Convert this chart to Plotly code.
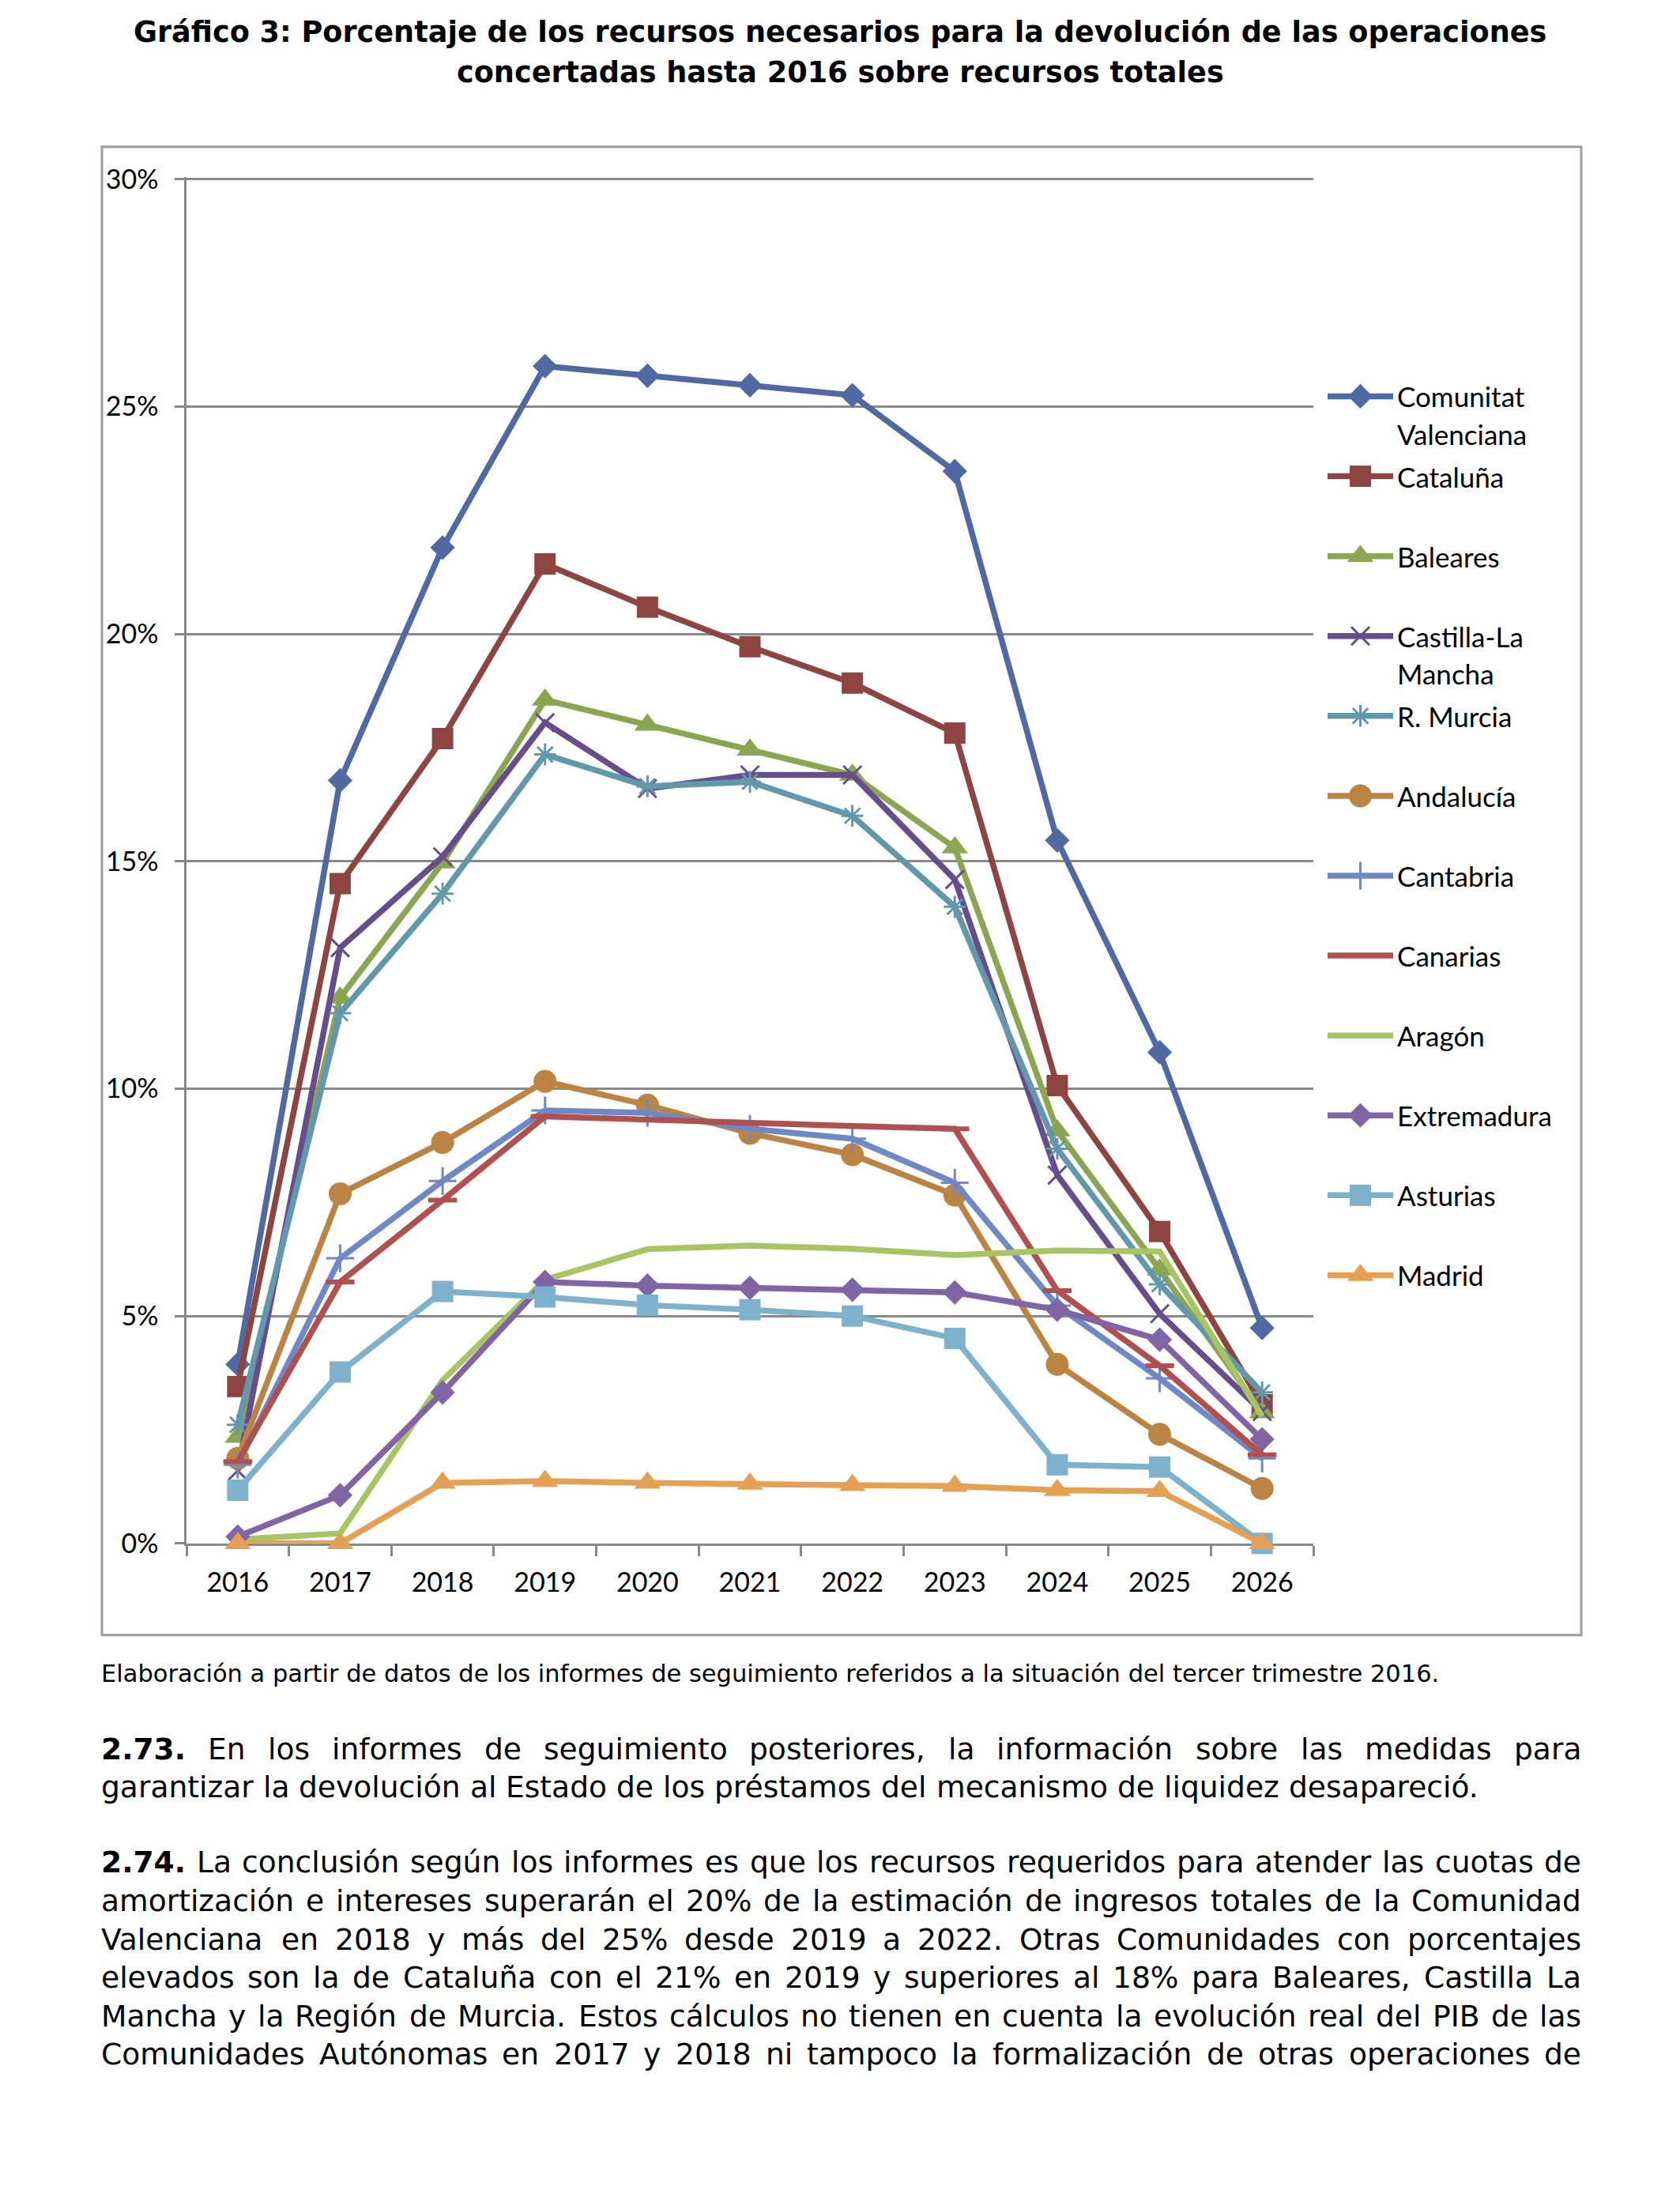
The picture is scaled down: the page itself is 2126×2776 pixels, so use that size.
import plotly.graph_objects as go

W, H = 2126, 2776

# ---------------- data ----------------
YEARS = ["2016", "2017", "2018", "2019", "2020", "2021", "2022", "2023", "2024", "2025", "2026"]

NAMES = ["Comunitat Valenciana", "Cataluña", "Baleares", "Castilla-La Mancha", "R. Murcia",
         "Andalucía", "Cantabria", "Canarias", "Aragón", "Extremadura", "Asturias", "Madrid"]

comunitat_valenciana = [3.94, 16.78, 21.90, 25.89, 25.68, 25.47, 25.25, 23.58, 15.46, 10.80, 4.74]
cataluna = [3.45, 14.51, 17.70, 21.54, 20.59, 19.72, 18.92, 17.82, 10.07, 6.86, 3.05]
baleares = [2.34, 12.00, 14.97, 18.55, 18.00, 17.45, 16.90, 15.30, 9.08, 6.02, 2.88]
castilla_la_mancha = [1.60, 13.10, 15.10, 18.05, 16.60, 16.90, 16.90, 14.60, 8.10, 5.05, 2.90]
r_murcia = [2.61, 11.66, 14.29, 17.35, 16.65, 16.75, 16.00, 14.00, 8.68, 5.70, 3.32]
andalucia = [1.87, 7.69, 8.82, 10.16, 9.64, 9.02, 8.55, 7.66, 3.94, 2.40, 1.21]
cantabria = [1.73, 6.27, 7.97, 9.52, 9.47, 9.12, 8.90, 7.93, 5.23, 3.63, 1.87]
canarias = [1.80, 5.75, 7.55, 9.39, 9.32, 9.24, 9.18, 9.12, 5.56, 3.91, 1.95]
aragon = [0.09, 0.22, 3.59, 5.80, 6.47, 6.55, 6.48, 6.34, 6.44, 6.42, 2.80]
extremadura = [0.15, 1.06, 3.32, 5.75, 5.67, 5.62, 5.58, 5.52, 5.14, 4.48, 2.29]
asturias = [1.17, 3.77, 5.54, 5.42, 5.24, 5.14, 5.00, 4.51, 1.73, 1.68, 0.00]
madrid = [0.00, 0.00, 1.33, 1.37, 1.33, 1.31, 1.28, 1.26, 1.17, 1.15, 0.00]

VALUES = [comunitat_valenciana, cataluna, baleares, castilla_la_mancha, r_murcia, andalucia,
          cantabria, canarias, aragon, extremadura, asturias, madrid]

Y_TICKS = [0, 5, 10, 15, 20, 25, 30]
Y_TICK_LABELS = ["0%", "5%", "10%", "15%", "20%", "25%", "30%"]

TITLE_LINES = ["Gráfico 3: Porcentaje de los recursos necesarios para la devolución de las operaciones",
               "concertadas hasta 2016 sobre recursos totales"]
FOOTNOTE = "Elaboración a partir de datos de los informes de seguimiento referidos a la situación del tercer trimestre 2016."
PARA_273 = [("2.73.", "En los informes de seguimiento posteriores, la información sobre las medidas para", True),
            (None, "garantizar la devolución al Estado de los préstamos del mecanismo de liquidez desapareció.", False)]
PARA_274 = [("2.74.", "La conclusión según los informes es que los recursos requeridos para atender las cuotas de", True),
            (None, "amortización e intereses superarán el 20% de la estimación de ingresos totales de la Comunidad", True),
            (None, "Valenciana en 2018 y más del 25% desde 2019 a 2022. Otras Comunidades con porcentajes", True),
            (None, "elevados son la de Cataluña con el 21% en 2019 y superiores al 18% para Baleares, Castilla La", True),
            (None, "Mancha y la Región de Murcia. Estos cálculos no tienen en cuenta la evolución real del PIB de las", True),
            (None, "Comunidades Autónomas en 2017 y 2018 ni tampoco la formalización de otras operaciones de", True)]

# ---------------- styles ----------------
COLORS = ["#4F69A2", "#8E4441", "#8CA551", "#664D8B", "#6298AC", "#BC8442",
          "#6E89C6", "#B1514F", "#A9C563", "#8065A5", "#7DB1CC", "#E6A053"]
SYMBOLS = ["diamond", "square", "triangle-up", "x-thin-open", "asterisk-open", "circle",
           "cross-thin-open", "line-ew-open", None, "diamond", "square", "triangle-up"]
MSIZES = [24, 27, 29, 23, 23, 29, 25, 26, 0, 24, 27, 29]
MLINE = [0, 0, 0, 3, 3, 0, 3, 6, 0, 0, 0, 0]

GRID = "#898989"
CHART_FONT = "Lato"
TEXT_FONT = "DejaVu Sans"

# target positions (pixels of the 2126x2776 page)
Y_MAX = 30.05
PLOT_L, PLOT_R, PLOT_B = 236, 1662, 1953
PX_PER_PCT = 57.6
PLOT_T = PLOT_B - Y_MAX * PX_PER_PCT
FRAME = (129, 184, 2001, 2069)
LEG_X0, LEG_X1, LEG_TEXT_X = 1680, 1763, 1768
LEG_TOP, LEG_STEP, LEG_LINE2 = 500, 101.2, 47.5
TITLE_Y = [39, 90]
FOOT_Y = 2118
P273_Y = [2213, 2261]
P274_Y0, P274_STEP = 2357, 48.6

TEXT_L, TEXT_R = 128, 2001

# observed vertical mapping of the capture (page y -> picture y): y' = 17 + 0.9874*y
CAP_A, CAP_B = 17.0, 0.9874


def T(y):
    return (y - CAP_A) / CAP_B


def px(x):
    return x / W


def py(y):
    return 1 - T(y) / H


# approximate DejaVu Sans advance widths (em)
REG = {' ': .318, '.': .318, ',': .318, '%': .950, '-': .361, ':': .337,
       'a': .613, 'b': .635, 'c': .550, 'd': .635, 'e': .615, 'f': .352, 'g': .635, 'h': .634,
       'i': .278, 'j': .278, 'k': .579, 'l': .278, 'm': .974, 'n': .634, 'o': .612, 'p': .635,
       'q': .635, 'r': .411, 's': .521, 't': .392, 'u': .634, 'v': .592, 'w': .818, 'x': .592,
       'y': .592, 'z': .525, 'A': .684, 'B': .686, 'C': .698, 'D': .770, 'E': .632, 'F': .575,
       'G': .775, 'H': .752, 'I': .295, 'L': .557, 'M': .863, 'O': .787, 'P': .603, 'R': .695,
       'S': .635, 'T': .611, 'V': .684}
BOLD = {' ': .348, '.': .380, ',': .380, ':': .400, '%': 1.002,
        'a': .675, 'b': .716, 'c': .593, 'd': .716, 'e': .678, 'f': .435, 'g': .716, 'h': .712,
        'i': .343, 'j': .343, 'k': .665, 'l': .343, 'm': 1.042, 'n': .712, 'o': .687, 'p': .716,
        'q': .716, 'r': .493, 's': .595, 't': .478, 'u': .712, 'v': .652, 'w': .924, 'x': .647,
        'y': .652, 'z': .582, 'G': .821, 'P': .733}
ACC = {'á': 'a', 'é': 'e', 'í': 'i', 'ó': 'o', 'ú': 'u', 'ñ': 'n', 'Á': 'A', 'É': 'E'}


def em(s, bold=False):
    tab = BOLD if bold else REG
    tot = 0.0
    for ch in s:
        ch2 = ACC.get(ch, ch)
        if ch2.isdigit():
            tot += .696 if bold else .636
        else:
            tot += tab.get(ch2, .62 if bold else .6)
    return tot


BODY_SIZE = 1744 / em(PARA_273[1][1])
FOOT_SIZE = 1696 / em(FOOTNOTE)
TITLE_SIZE = 1790 / em(TITLE_LINES[0], True)

fig = go.Figure()

# ---------------- data traces ----------------
for name, vals, col, sym, ms, ml in zip(NAMES, VALUES, COLORS, SYMBOLS, MSIZES, MLINE):
    fig.add_trace(go.Scatter(
        x=YEARS, y=vals, name=name,
        mode="lines+markers" if sym else "lines",
        line=dict(color=col, width=7.5),
        marker=dict(symbol=sym or "circle", size=ms, color=col,
                    line=dict(color=col, width=ml)),
        cliponaxis=False, showlegend=False,
        hovertemplate="%{x}: %{y:.2f}%<extra>" + name + "</extra>"))

# ---------------- hand-laid legend (Excel style) ----------------
annotations = []
for i, (name, col, sym, ms, ml) in enumerate(zip(NAMES, COLORS, SYMBOLS, MSIZES, MLINE)):
    yi = LEG_TOP + i * LEG_STEP
    fig.add_trace(go.Scatter(x=[0, 1], y=[T(yi), T(yi)], xaxis="x2", yaxis="y2", mode="lines",
                             line=dict(color=col, width=7.5), showlegend=False, hoverinfo="skip"))
    if sym:
        fig.add_trace(go.Scatter(x=[0.5], y=[T(yi)], xaxis="x2", yaxis="y2", mode="markers",
                                 marker=dict(symbol=sym, size=ms, color=col,
                                             line=dict(color=col, width=ml)),
                                 showlegend=False, hoverinfo="skip", cliponaxis=False))
    parts = name.split(" ", 1) if len(name) > 14 else [name]
    for k, part in enumerate(parts):
        annotations.append(dict(x=px(LEG_TEXT_X), y=py(yi + k * LEG_LINE2), xref="paper", yref="paper",
                                text=part, showarrow=False, xanchor="left", yanchor="middle",
                                font=dict(family=CHART_FONT, size=35, color="black"),
                                borderpad=0, borderwidth=0))

# ---------------- title ----------------
for line, yc in zip(TITLE_LINES, TITLE_Y):
    annotations.append(dict(x=0.5, y=py(yc), xref="paper", yref="paper", text="<b>" + line + "</b>",
                            showarrow=False, xanchor="center", yanchor="middle",
                            font=dict(family=TEXT_FONT, size=TITLE_SIZE, color="black"),
                            borderpad=0, borderwidth=0))

# footnote
annotations.append(dict(x=px(TEXT_L), y=py(FOOT_Y), xref="paper", yref="paper", text=FOOTNOTE,
                        showarrow=False, xanchor="left", yanchor="middle",
                        font=dict(family=TEXT_FONT, size=FOOT_SIZE, color="black"),
                        borderpad=0, borderwidth=0))


def place_line(lead, text, justify, yc):
    words = []
    if lead:
        words.append((lead, True))
    words += [(w, False) for w in text.split(" ")]
    widths = [em(w, b) * BODY_SIZE for w, b in words]
    n = len(words)
    if justify and n > 1:
        gap = (TEXT_R - TEXT_L - sum(widths)) / (n - 1)
    else:
        gap = em(" ") * BODY_SIZE
    x = TEXT_L
    for j, ((w, b), wd) in enumerate(zip(words, widths)):
        last = justify and j == n - 1
        annotations.append(dict(x=px(TEXT_R if last else x), y=py(yc), xref="paper", yref="paper",
                                text=("<b>" + w + "</b>") if b else w, showarrow=False,
                                xanchor="right" if last else "left", yanchor="middle",
                                font=dict(family=TEXT_FONT, size=BODY_SIZE, color="black"),
                                borderpad=0, borderwidth=0))
        x += wd + gap


for (lead, text, just), yc in zip(PARA_273, P273_Y):
    place_line(lead, text, just, yc)
for k, (lead, text, just) in enumerate(PARA_274):
    place_line(lead, text, just, P274_Y0 + k * P274_STEP)

# ---------------- layout ----------------
fig.update_layout(
    width=W, height=H, margin=dict(l=0, r=0, t=0, b=0, pad=0),
    paper_bgcolor="white", plot_bgcolor="white",
    annotations=annotations,
    shapes=[dict(type="rect", xref="paper", yref="paper",
                 x0=px(FRAME[0]), x1=px(FRAME[2]), y0=py(FRAME[3]), y1=py(FRAME[1]),
                 line=dict(color="#9C9C9C", width=3), fillcolor="rgba(0,0,0,0)", layer="below")],
    xaxis=dict(domain=[px(PLOT_L), px(PLOT_R)], type="category", range=[-0.5, 10.5],
               tickson="boundaries", ticks="outside", ticklen=13, tickwidth=2.5, tickcolor=GRID,
               showline=True, linecolor=GRID, linewidth=2.5, showgrid=False, zeroline=False,
               tickfont=dict(family=CHART_FONT, size=34, color="black"),
               ticklabelstandoff=18, layer="below traces", fixedrange=True),
    yaxis=dict(domain=[py(PLOT_B), py(PLOT_T)], range=[0, Y_MAX],
               tickmode="array", tickvals=Y_TICKS, ticktext=Y_TICK_LABELS,
               ticks="outside", ticklen=12, tickwidth=2.5, tickcolor=GRID,
               showline=True, linecolor=GRID, linewidth=2.5,
               showgrid=True, gridcolor=GRID, gridwidth=2.5, zeroline=False,
               tickfont=dict(family=CHART_FONT, size=34, color="black"),
               ticklabelstandoff=14, layer="below traces", fixedrange=True),
    xaxis2=dict(domain=[px(LEG_X0), px(LEG_X1)], range=[0, 1], visible=False, anchor="y2",
                fixedrange=True),
    yaxis2=dict(domain=[0, 1], range=[H, 0], visible=False, anchor="x2", fixedrange=True),
    showlegend=False,
)

POST = ("document.documentElement.style.margin='0';document.documentElement.style.padding='0';"
        "document.body.style.margin='0';document.body.style.padding='0';"
        "document.documentElement.style.overflow='hidden';document.body.style.overflow='hidden';"
        "var d=document.querySelector('.plotly-graph-div');"
        "if(d&&d.parentElement){d.parentElement.style.margin='0';d.parentElement.style.padding='0';"
        "d.parentElement.style.lineHeight='0';}")

fig.write_html("out.html", config={"displayModeBar": False}, post_script=POST)
